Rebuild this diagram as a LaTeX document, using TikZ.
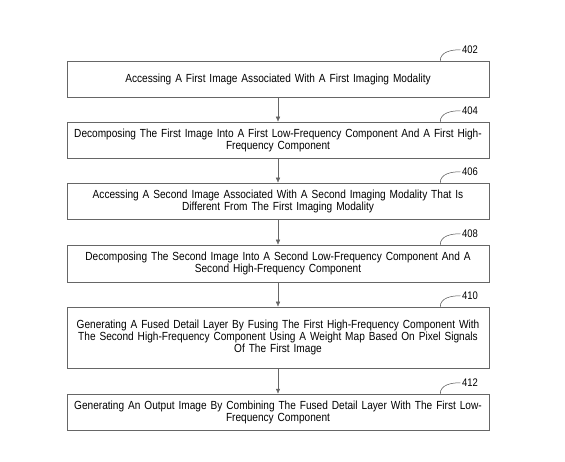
\documentclass[tikz,border=0pt]{standalone}
\usepackage{fontspec}
\setmainfont[FakeStretch=0.86]{Liberation Sans}
\usetikzlibrary{arrows.meta,calc}
\begin{document}
\begin{tikzpicture}[x=1pt,y=-1pt,line width=0.5pt,>={Latex[length=5pt,width=4.5pt]},
	schritt/.style={draw=black!60,minimum width=422pt,text width=420pt,align=center,inner xsep=1pt,inner ysep=0pt,
		font=\fontsize{11.75}{12}\selectfont},
	nummer/.style={anchor=west,inner sep=1.5pt,font=\fontsize{11}{12}\selectfont}]
	\useasboundingbox (0,0) rectangle (565,462);

	%%Schritte
	\foreach \n/\y/\h/\t in {
		402/79/36/{Accessing A First Image Associated With A First Imaging Modality},
		404/140/36/{Decomposing The First Image Into A First Low-Frequency Component And A First High-\\Frequency Component},
		406/201/36/{Accessing A Second Image Associated With A Second Imaging Modality That Is\\Different From The First Imaging Modality},
		408/263.5/37/{Decomposing The Second Image Into A Second Low-Frequency Component And A\\Second High-Frequency Component},
		410/337.5/61/{Generating A Fused Detail Layer By Fusing The First High-Frequency Component With\\The Second High-Frequency Component Using A Weight Map Based On Pixel Signals\\Of The First Image},
		412/412/36/{Generating An Output Image By Combining The Fused Detail Layer With The First Low-\\Frequency Component}}
	{
		\node[schritt,minimum height=\h pt] (b\n) at (278,\y) {\t};
		\node[nummer] (l\n) at ($(b\n.north east)+(-29,-11)$) {\n};
		\draw[black!70] ($(b\n.north east)+(-49,0)$) to[out=90,in=180] (l\n.west);
	}

	%%Pfeile
	\foreach \a/\b in {402/404,404/406,406/408,408/410,410/412}
		\draw[->,black!60] (b\a) -- (b\b);
\end{tikzpicture}
\end{document}
